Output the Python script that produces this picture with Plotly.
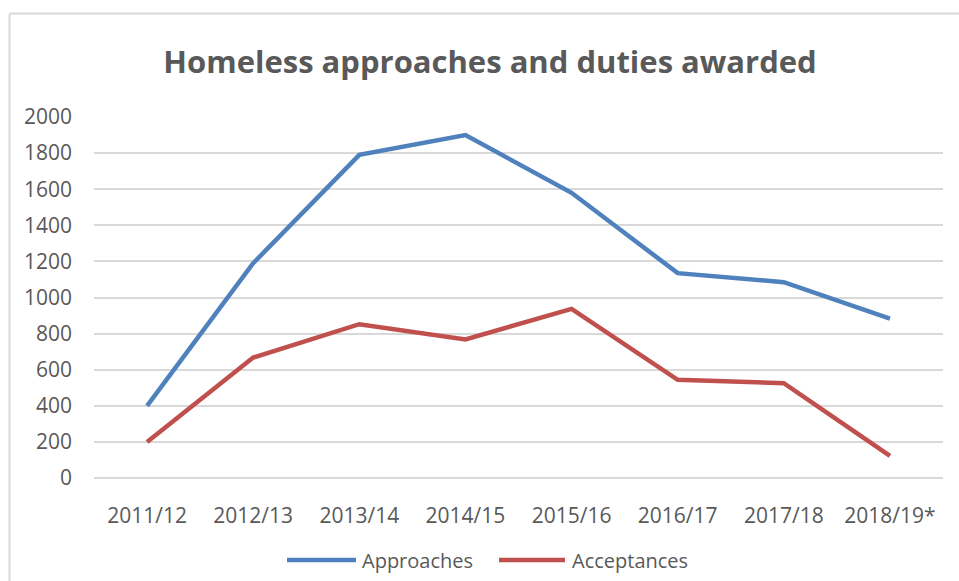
import plotly.graph_objects as go

# Financial years and series values
years = ["2011/12", "2012/13", "2013/14", "2014/15", "2015/16", "2016/17", "2017/18", "2018/19*"]
approaches = [400, 1190, 1790, 1900, 1580, 1135, 1085, 883]
acceptances = [200, 667, 852, 768, 937, 544, 525, 123]
series_names = ["Approaches", "Acceptances"]
series_colors = ["#4F81BD", "#C0504D"]
y_ticks = list(range(0, 2001, 200))

W, H = 959, 581
L, R, T, B = 94, 16, 117, 103
PW, PH = W - L - R, H - T - B
FONT = "Open Sans, Noto Sans, sans-serif"
TXT = "#595959"


def px_x(px):
    return (px - L) / PW


def px_y(py):
    return (H - B - py) / PH


fig = go.Figure()
for name, vals, col in zip(series_names, [approaches, acceptances], series_colors):
    fig.add_trace(go.Scatter(
        x=years, y=vals, name=name, mode="lines",
        line=dict(color=col, width=4.5), showlegend=False,
    ))

shapes = [
    # outer chart border (left and top edges visible)
    dict(type="line", xref="paper", yref="paper", x0=px_x(9.5), x1=px_x(9.5),
         y0=px_y(13.5), y1=px_y(H + 5), line=dict(color="#D9D9D9", width=2)),
    dict(type="line", xref="paper", yref="paper", x0=px_x(9.5), x1=px_x(W + 5),
         y0=px_y(13.5), y1=px_y(13.5), line=dict(color="#D9D9D9", width=2)),
]
annotations = []

# legend: line swatch followed by series name
legend_items = [(287, 356, 360), (499, 565, 570)]
for (x0, x1, tx), name, col in zip(legend_items, series_names, series_colors):
    shapes.append(dict(type="line", xref="paper", yref="paper",
                       x0=px_x(x0), x1=px_x(x1), y0=px_y(560), y1=px_y(560),
                       line=dict(color=col, width=4.5)))
    annotations.append(dict(text=name, xref="paper", yref="paper",
                            x=px_x(tx), y=px_y(560), xanchor="left", yanchor="middle",
                            showarrow=False, font=dict(family=FONT, size=20, color=TXT)))

fig.update_layout(
    width=W, height=H,
    margin=dict(l=L, r=R, t=T, b=B),
    paper_bgcolor="white", plot_bgcolor="white",
    title=dict(text="<b>Homeless approaches and duties awarded</b>",
               x=490 / W, xanchor="center", xref="container",
               y=1 - 62 / H, yanchor="middle", yref="container",
               font=dict(family=FONT, size=31, color=TXT)),
    shapes=shapes,
    annotations=annotations,
    xaxis=dict(type="category", range=[-0.5, len(years) - 0.5],
               showgrid=False, showline=False, zeroline=False, ticks="",
               tickfont=dict(family=FONT, size=21, color=TXT),
               ticklabelstandoff=23),
    yaxis=dict(range=[0, 2000], tickvals=y_ticks, showgrid=True,
               gridcolor="#D9D9D9", gridwidth=1.5, zeroline=True,
               zerolinecolor="#D9D9D9", zerolinewidth=1.5, showline=False, ticks="",
               tickfont=dict(family=FONT, size=21, color=TXT),
               ticklabelstandoff=21),
)

fig.write_html("out.html")
